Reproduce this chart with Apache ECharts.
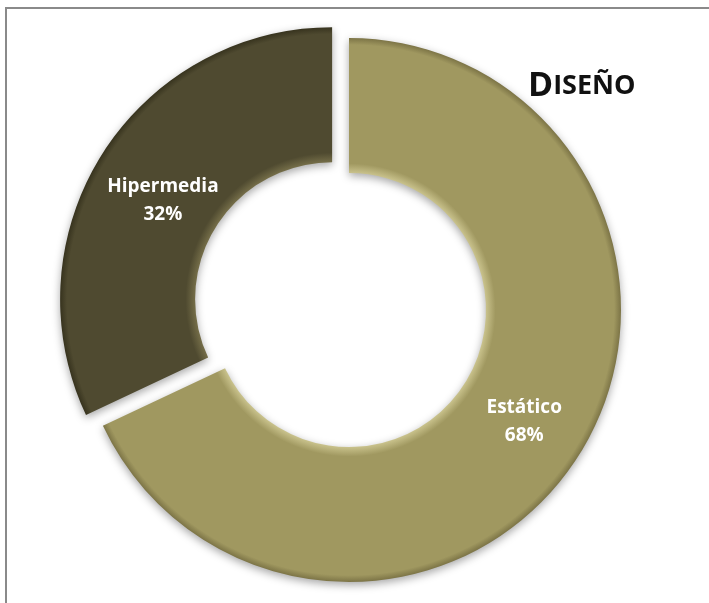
<!DOCTYPE html>
<html>
<head>
<meta charset="utf-8">
<script src="https://cdn.jsdelivr.net/npm/echarts@6/dist/echarts.min.js"></script>
<style>
  html, body { margin: 0; padding: 0; background: #fff; }
  #chart { width: 709px; height: 603px; }
</style>
</head>
<body>
<div id="chart"></div>
<script>
// Design type shares
const categories = ['Estático', 'Hipermedia'];
const values = [68, 32];
const exploded = [false, true];

const baseColors = ['#a09860', '#4f4a30'];
const lightColors = ['#c9c28c', '#746d48'];
const darkColors = ['#7c7446', '#37331e'];

const CX = 349, CY = 310, R_IN = 137, R_OUT = 272;

// Radial shading: light rim on the hole side, darker rim outside
function bevel(i) {
  const inner = R_IN / R_OUT;
  return {
    type: 'radial', x: CX, y: CY, r: R_OUT, global: true,
    colorStops: [
      { offset: inner, color: lightColors[i] },
      { offset: inner + 0.035, color: baseColors[i] },
      { offset: 0.975, color: baseColors[i] },
      { offset: 1, color: darkColors[i] }
    ]
  };
}

const chart = echarts.init(document.getElementById('chart'));
chart.setOption({
  animation: false,
  backgroundColor: '#ffffff',
  title: {
    text: '{a|D}{b|ISEÑO}',
    left: 523,
    top: 64,
    textStyle: {
      rich: {
        a: { fontFamily: 'Open Sans', fontWeight: 'bold', fontSize: 34, color: '#111' },
        b: { fontFamily: 'Open Sans', fontWeight: 'bold', fontSize: 27, color: '#111' }
      }
    }
  },
  graphic: [{
    type: 'rect',
    shape: { x: 6, y: 8, width: 800, height: 700 },
    style: { fill: 'none', stroke: '#8a8a8a', lineWidth: 2 },
    z: -1
  }],
  series: [{
    type: 'pie',
    center: [CX, CY],
    radius: [R_IN, R_OUT],
    startAngle: 90,
    clockwise: true,
    selectedMode: 'multiple',
    selectedOffset: 20,
    avoidLabelOverlap: false,
    label: {
      show: true,
      position: 'inside',
      formatter: p => p.name + '\n' + p.value + '%',
      color: '#ffffff',
      fontFamily: 'Open Sans',
      fontWeight: 'bold',
      fontSize: 19,
      lineHeight: 28
    },
    // the exploded slice keeps its label a little nearer the hole
    labelLayout: p => (exploded[p.dataIndex] ? { dx: 6, dy: 12 } : {}),
    labelLine: { show: false },
    emphasis: { disabled: true },
    data: categories.map((name, i) => ({
      name: name,
      value: values[i],
      selected: exploded[i],
      itemStyle: {
        color: bevel(i),
        shadowBlur: 8,
        shadowColor: 'rgba(0,0,0,0.35)',
        shadowOffsetY: 3
      }
    }))
  }]
});
</script>
</body>
</html>
